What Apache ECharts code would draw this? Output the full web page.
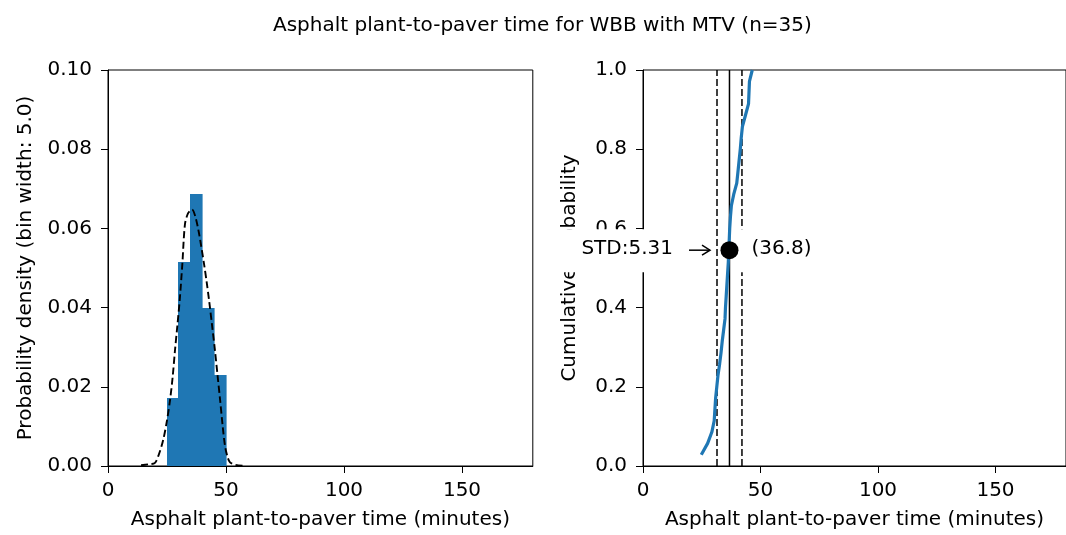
<!DOCTYPE html>
<html><head><meta charset="utf-8">
<script src="https://cdn.jsdelivr.net/npm/echarts@6/dist/echarts.min.js"></script>
<style>html,body{margin:0;padding:0;background:#fff}#c{width:1066px;height:535px}</style>
</head><body><div id="c"></div>
<script>
const titleText = 'Asphalt plant-to-paver time for WBB with MTV (n=35)';
const xLabel = 'Asphalt plant-to-paver time (minutes)';
const yLabelLeft = 'Probability density (bin width: 5.0)';
const yLabelRight = 'Cumulative probability';

const sampleTimes = [24.8, 27.5, 29.3,
  30.3, 30.6, 30.9, 31.4, 31.9, 32.6, 33.2, 33.7, 34.3,
  34.9, 35.1, 35.4, 35.7, 36.0, 36.3, 36.5, 36.7, 36.9, 37.2, 37.6, 38.6,
  39.9, 40.4, 40.9, 41.4, 41.8, 42.3, 43.6,
  44.9, 45.1, 45.3, 46.5];
const binWidth = 5;

const curveX = [14, 17, 19.9, 21.6, 23.4, 25.0, 26.3, 27.4, 28.4, 29.4, 30.4, 31.5, 32.6, 33.9, 35.6, 37.0, 38.3, 39.5, 40.7, 41.8, 42.9, 44.1, 45.3, 46.4, 47.5, 48.6, 49.6, 50.7, 51.7, 54, 57];
const curveY = [0.0002, 0.0004, 0.0008, 0.0030, 0.0066, 0.0115, 0.0167, 0.0225, 0.0293, 0.0355, 0.0420, 0.0510, 0.0610, 0.0638, 0.0648, 0.0630, 0.0596, 0.0555, 0.0510, 0.0465, 0.0415, 0.0355, 0.0293, 0.0230, 0.0167, 0.0100, 0.0050, 0.0022, 0.0009, 0.0003, 0.0001];

const meanVal = 36.8;
const stdVal = 5.31;
const markerProb = 0.545;

const xTicks = [0, 50, 100, 150];
const leftYTicks = [0, 0.02, 0.04, 0.06, 0.08, 0.10];
const rightYTicks = [0, 0.2, 0.4, 0.6, 0.8, 1.0];

const FONT = 'DejaVu Sans';
const n = sampleTimes.length;
const binStart = Math.min(...sampleTimes);
const counts = [];
sampleTimes.forEach(v => {
  const k = Math.floor((v - binStart) / binWidth + 1e-9);
  counts[k] = (counts[k] || 0) + 1;
});
const histData = [];
for (let k = 0; k < counts.length; k++) {
  histData.push([binStart + k * binWidth, binStart + (k + 1) * binWidth, (counts[k] || 0) / (n * binWidth)]);
}
const sorted = sampleTimes.slice().sort((a, b) => a - b);
const cdfData = sorted.map((v, i) => [v, (i + 1) / n]);
const curveData = curveX.map((x, i) => [x, curveY[i]]);

const textBase = {fontFamily: FONT, fontSize: 20, color: '#000'};

function mkX(gi) {
  return {
    gridIndex: gi, type: 'value', min: 0, max: 180, interval: 50,
    axisLine: {show: true, lineStyle: {color: '#000', width: 1}},
    axisTick: {show: true, length: 7, customValues: xTicks, lineStyle: {color: '#000', width: 1}},
    axisLabel: Object.assign({customValues: xTicks, margin: 15}, textBase),
    splitLine: {show: false},
    name: xLabel, nameLocation: 'middle', nameGap: 44,
    nameTextStyle: textBase
  };
}
function mkY(gi, max, interval, ticks, digits, name, gap) {
  return {
    gridIndex: gi, type: 'value', min: 0, max: max, interval: interval,
    axisLine: {show: true, lineStyle: {color: '#000', width: 1}},
    axisTick: {show: true, length: 7, customValues: ticks, lineStyle: {color: '#000', width: 1}},
    axisLabel: Object.assign({customValues: ticks, margin: 16, formatter: v => Number(v).toFixed(digits)}, textBase),
    splitLine: {show: false},
    name: name, nameLocation: 'middle', nameGap: gap,
    nameTextStyle: textBase
  };
}

const chart = echarts.init(document.getElementById('c'), null, {renderer: 'canvas'});
const option = {
  animation: false,
  backgroundColor: '#fff',
  title: {text: titleText, left: 268, top: 11, textStyle: Object.assign({fontWeight: 'normal'}, textBase)},
  grid: [
    {left: 108, top: 70, width: 424.8, height: 396, show: true, borderColor: '#000', borderWidth: 1, backgroundColor: 'transparent'},
    {left: 643, top: 70, width: 424.8, height: 396, show: true, borderColor: '#000', borderWidth: 1, backgroundColor: 'transparent'}
  ],
  xAxis: [mkX(0), mkX(1)],
  yAxis: [
    mkY(0, 0.1, 0.02, leftYTicks, 2, yLabelLeft, 72),
    mkY(1, 1.0, 0.2, rightYTicks, 1, yLabelRight, 63)
  ],
  series: [
    {
      type: 'custom', xAxisIndex: 0, yAxisIndex: 0, z: 2,
      data: histData,
      encode: {x: [0, 1], y: 2},
      renderItem: (params, api) => {
        const p0 = api.coord([api.value(0), api.value(2)]);
        const p1 = api.coord([api.value(1), 0]);
        const x0 = Math.round(p0[0]), x1 = Math.round(p1[0]);
        const y0 = Math.round(p0[1]), y1 = Math.round(p1[1]);
        return {type: 'rect', shape: {x: x0, y: y0, width: x1 - x0 + 0.6, height: y1 - y0}, style: {fill: '#1f77b4'}};
      }
    },
    {
      type: 'line', xAxisIndex: 0, yAxisIndex: 0, z: 3, data: curveData, smooth: 0.3,
      showSymbol: false, symbol: 'none',
      lineStyle: {color: '#000', width: 1.9, type: [7, 3.5]}
    },
    {
      type: 'line', xAxisIndex: 1, yAxisIndex: 1, z: 0, symbol: 'none',
      data: [[meanVal + stdVal, 0], [meanVal + stdVal, 1]],
      lineStyle: {color: '#000', width: 1.5, type: [7, 3]}
    },
    {
      type: 'line', xAxisIndex: 1, yAxisIndex: 1, z: 3, symbol: 'none',
      data: [[meanVal - stdVal, 0], [meanVal - stdVal, 1]],
      lineStyle: {color: '#000', width: 1.5, type: [7, 3]}
    },
    {
      type: 'line', xAxisIndex: 1, yAxisIndex: 1, z: 3, symbol: 'none',
      data: [[meanVal, 0], [meanVal, 1]],
      lineStyle: {color: '#000', width: 1.5}
    },
    {
      type: 'line', xAxisIndex: 1, yAxisIndex: 1, z: 4, symbol: 'none',
      data: cdfData,
      lineStyle: {color: '#1f77b4', width: 3.2}
    },
    {
      type: 'scatter', xAxisIndex: 1, yAxisIndex: 1, z: 5,
      data: [[meanVal, markerProb]], symbol: 'circle', symbolSize: 18,
      itemStyle: {color: '#000', opacity: 1}
    }
  ]
};
chart.setOption(option);

const pt = chart.convertToPixel({xAxisIndex: 1, yAxisIndex: 1}, [meanVal, markerProb]);
const lowX = chart.convertToPixel({xAxisIndex: 1, yAxisIndex: 1}, [meanVal - stdVal, markerProb])[0];
const dotX = pt[0], dotY = pt[1];
const tipX = lowX - 7;
chart.setOption({
  graphic: {elements: [
    {type: 'rect', z: 1, silent: true, shape: {x: dotX - 174, y: dotY - 21, width: 266, height: 43}, style: {fill: '#fff'}},
    {type: 'text', z: 10, silent: true, x: lowX - 44, y: dotY - 1.5,
      style: {text: 'STD:' + stdVal.toFixed(2), font: '20px "DejaVu Sans"', fill: '#000', align: 'right', verticalAlign: 'middle'}},
    {type: 'text', z: 10, silent: true, x: dotX + 22, y: dotY - 1.5,
      style: {text: '(' + meanVal.toFixed(1) + ')', font: '20px "DejaVu Sans"', fill: '#000', align: 'left', verticalAlign: 'middle'}},
    {type: 'line', z: 10, silent: true, shape: {x1: tipX - 21, y1: dotY, x2: tipX, y2: dotY}, style: {stroke: '#000', lineWidth: 1.5}},
    {type: 'polyline', z: 10, silent: true, shape: {points: [[tipX - 8, dotY - 5], [tipX, dotY], [tipX - 8, dotY + 5]]}, style: {stroke: '#000', lineWidth: 1.5, fill: null}}
  ]}
});
</script></body></html>
